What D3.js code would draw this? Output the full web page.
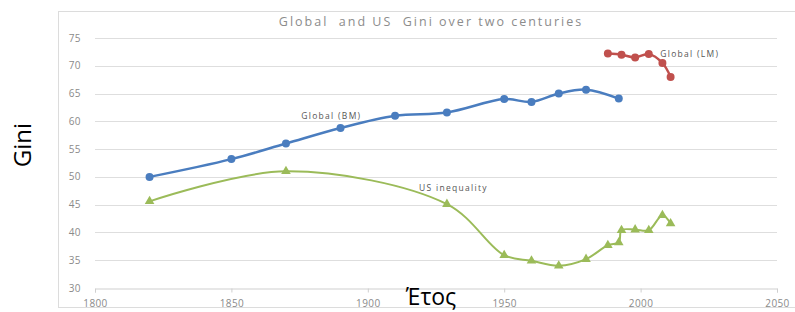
<!DOCTYPE html>
<html>
<head>
<meta charset="utf-8">
<script src="https://cdn.jsdelivr.net/npm/d3@7"></script>
<style>
  body { margin: 0; background: #fff; }
  svg { display: block; }
</style>
</head>
<body>
<svg width="795" height="312"></svg>
<script>
// data
const bmYears = [1820, 1850, 1870, 1890, 1910, 1929, 1950, 1960, 1970, 1980, 1992];
const bmGini  = [50.0, 53.2, 56.0, 58.8, 61.0, 61.6, 64.0, 63.5, 65.0, 65.7, 64.1];

const lmYears = [1988, 1993, 1998, 2003, 2008, 2011];
const lmGini  = [72.2, 72.0, 71.5, 72.1, 70.5, 68.0];

const usYears = [1820, 1870, 1929, 1950, 1960, 1970, 1980, 1988, 1992, 1993, 1998, 2003, 2008, 2011];
const usGini  = [45.6, 51.0, 45.1, 35.9, 34.9, 34.0, 35.2, 37.7, 38.2, 40.4, 40.5, 40.4, 43.1, 41.6];

const xTicks = [1800, 1850, 1900, 1950, 2000, 2050];
const yTicks = [30, 35, 40, 45, 50, 55, 60, 65, 70, 75];

const svg = d3.select("svg");

// outer chart frame
svg.append("rect")
    .attr("x", 58.5).attr("y", 11.5)
    .attr("width", 745).attr("height", 296)
    .attr("fill", "none")
    .attr("stroke", "#dcdcdc");

const x = d3.scaleLinear().domain([1800, 2050]).range([95, 777]);
const y = d3.scaleLinear().domain([30, 75]).range([288, 38]);

// gridlines
svg.append("g")
    .selectAll("line")
    .data(yTicks.filter(d => d > 30))
    .join("line")
      .attr("x1", x(1800)).attr("x2", x(2050))
      .attr("y1", d => Math.round(y(d)) + 0.5)
      .attr("y2", d => Math.round(y(d)) + 0.5)
      .attr("stroke", "#dedede");

// x axis
const xAxis = svg.append("g")
    .attr("transform", `translate(0,${Math.round(y(30)) + 0.5})`)
    .call(d3.axisBottom(x).tickValues(xTicks).tickSize(4).tickFormat(d3.format("d")));
xAxis.select(".domain").attr("stroke", "#cfcfcf");
xAxis.selectAll(".tick line").attr("stroke", "#cfcfcf");
xAxis.selectAll("text")
    .attr("fill", "#8a8a8a")
    .attr("font-size", 10)
    .attr("letter-spacing", 0.4)
    .attr("font-family", "Open Sans, sans-serif")
    .attr("dy", "1.1em");

// y axis labels only
svg.append("g")
    .selectAll("text")
    .data(yTicks)
    .join("text")
      .attr("x", 81)
      .attr("y", d => y(d))
      .attr("dy", "0.35em")
      .attr("text-anchor", "end")
      .attr("fill", "#8a8a8a")
      .attr("font-size", 10)
      .attr("letter-spacing", 0.4)
      .attr("font-family", "Open Sans, sans-serif")
      .text(d => d);

// title
svg.append("text")
    .attr("x", 431).attr("y", 26)
    .attr("text-anchor", "middle")
    .attr("fill", "#8c8c8c")
    .attr("font-size", 12.5)
    .attr("letter-spacing", 2)
    .attr("font-family", "Open Sans, sans-serif")
    .style("white-space", "pre")
    .text("Global  and US  Gini over two centuries");

// axis titles
svg.append("text")
    .attr("transform", "translate(31,145) rotate(-90)")
    .attr("text-anchor", "middle")
    .attr("font-size", 24)
    .attr("font-family", "Open Sans, sans-serif")
    .attr("fill", "#000")
    .text("Gini");

svg.append("text")
    .attr("x", 431).attr("y", 305)
    .attr("text-anchor", "middle")
    .attr("font-size", 23)
    .attr("font-family", "Open Sans, sans-serif")
    .attr("fill", "#000")
    .text("Έτος");

const line = d3.line()
    .x(d => x(d[0]))
    .y(d => y(d[1]))
    .curve(d3.curveCatmullRom.alpha(0.5));

function drawSeries(years, vals, color, width, marker) {
    const pts = d3.zip(years, vals);
    svg.append("path")
        .datum(pts)
        .attr("d", line)
        .attr("fill", "none")
        .attr("stroke", color)
        .attr("stroke-width", width)
        .attr("stroke-linejoin", "round");
    svg.append("g")
        .selectAll("path")
        .data(pts)
        .join("path")
          .attr("transform", d => `translate(${x(d[0])},${y(d[1])})`)
          .attr("d", d3.symbol().type(marker).size(marker === d3.symbolTriangle ? 40 : 50))
          .attr("fill", color);
}

drawSeries(bmYears, bmGini, "#4a7dbf", 2.5, d3.symbolCircle);
drawSeries(lmYears, lmGini, "#c0504d", 2.5, d3.symbolCircle);
drawSeries(usYears, usGini, "#9bbb59", 2, d3.symbolTriangle);

// series labels
const labels = [
    { text: "Global (BM)", year: 1875.6, val: 60.9 },
    { text: "Global (LM)", year: 2007.2, val: 72.2 },
    { text: "US inequality", year: 1918.8, val: 48.0 }
];
svg.append("g")
    .selectAll("text")
    .data(labels)
    .join("text")
      .attr("x", d => x(d.year))
      .attr("y", d => y(d.val))
      .attr("dy", "0.35em")
      .attr("fill", "#555")
      .attr("font-size", 8.5)
      .attr("letter-spacing", 1.3)
      .attr("font-family", "Open Sans, sans-serif")
      .text(d => d.text);
</script>
</body>
</html>
